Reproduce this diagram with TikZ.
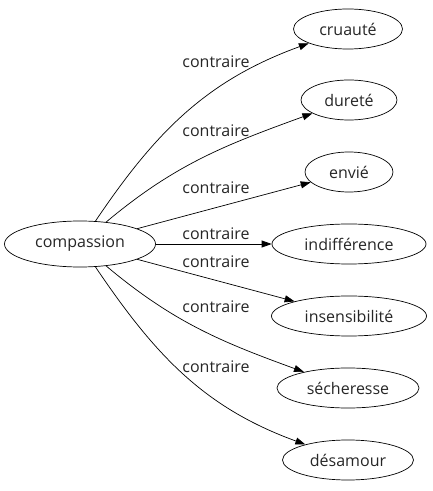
\documentclass[tikz,border=0pt]{standalone}
\usepackage{fontspec}
\setmainfont{Open Sans}
\usetikzlibrary{positioning, arrows.meta, shapes.geometric}
\tikzset{
  x=1pt, y=1pt,
  word/.style={
      ellipse,
      draw,
      line width=0.7pt,
      inner sep=0pt,
      minimum height=40pt,
      text=black!85,
      font=\fontsize{16}{18}\selectfont
    },
  lbl/.style={
      font=\fontsize{16}{18}\selectfont,
      text=black!85,
      inner sep=0pt
    },
  rel/.style={
      -{Triangle[length=10pt,width=7pt]},
      line width=0.7pt
    }
}
\begin{document}
\begin{tikzpicture}
  \useasboundingbox (0,0) rectangle (432,491);
  \node[word, minimum width=151pt, minimum height=46pt] (comp) at (80,247) {compassion};
  \node[word, minimum width=109pt] (cru) at (348,462) {cruauté};
  \node[word, minimum width=96pt] (dur) at (349,391) {dureté};
  \node[word, minimum width=88pt] (env) at (349,319) {envié};
  \node[word, minimum width=154pt] (ind) at (349,247) {indifférence};
  \node[word, minimum width=155pt] (ins) at (349,175) {insensibilité};
  \node[word, minimum width=142pt] (sec) at (348,103) {sécheresse};
  \node[word, minimum width=131pt] (des) at (348,31) {désamour};
  % arcs
  \draw[rel] (comp) to[out=56, in=200] (cru);
  \draw[rel] (comp) to[out=40, in=200] (dur);
  \draw[rel] (comp) to[out=15, in=195] (env);
  \draw[rel] (comp) -- (ind);
  \draw[rel] (comp) to[out=-15, in=165] (ins);
  \draw[rel] (comp) to[out=-40, in=160] (sec);
  \draw[rel] (comp) to[out=-56, in=160] (des);
  \node[lbl] (l1) at (216,429) {contraire};
  \node[lbl] (l2) at (216,360) {contraire};
  \node[lbl] (l3) at (216,303) {contraire};
  \node[lbl] (l4) at (216,257) {contraire};
  \node[lbl] (l5) at (216,229) {contraire};
  \node[lbl] (l6) at (216,184) {contraire};
  \node[lbl] (l7) at (216,124) {contraire};
\end{tikzpicture}
\end{document}
